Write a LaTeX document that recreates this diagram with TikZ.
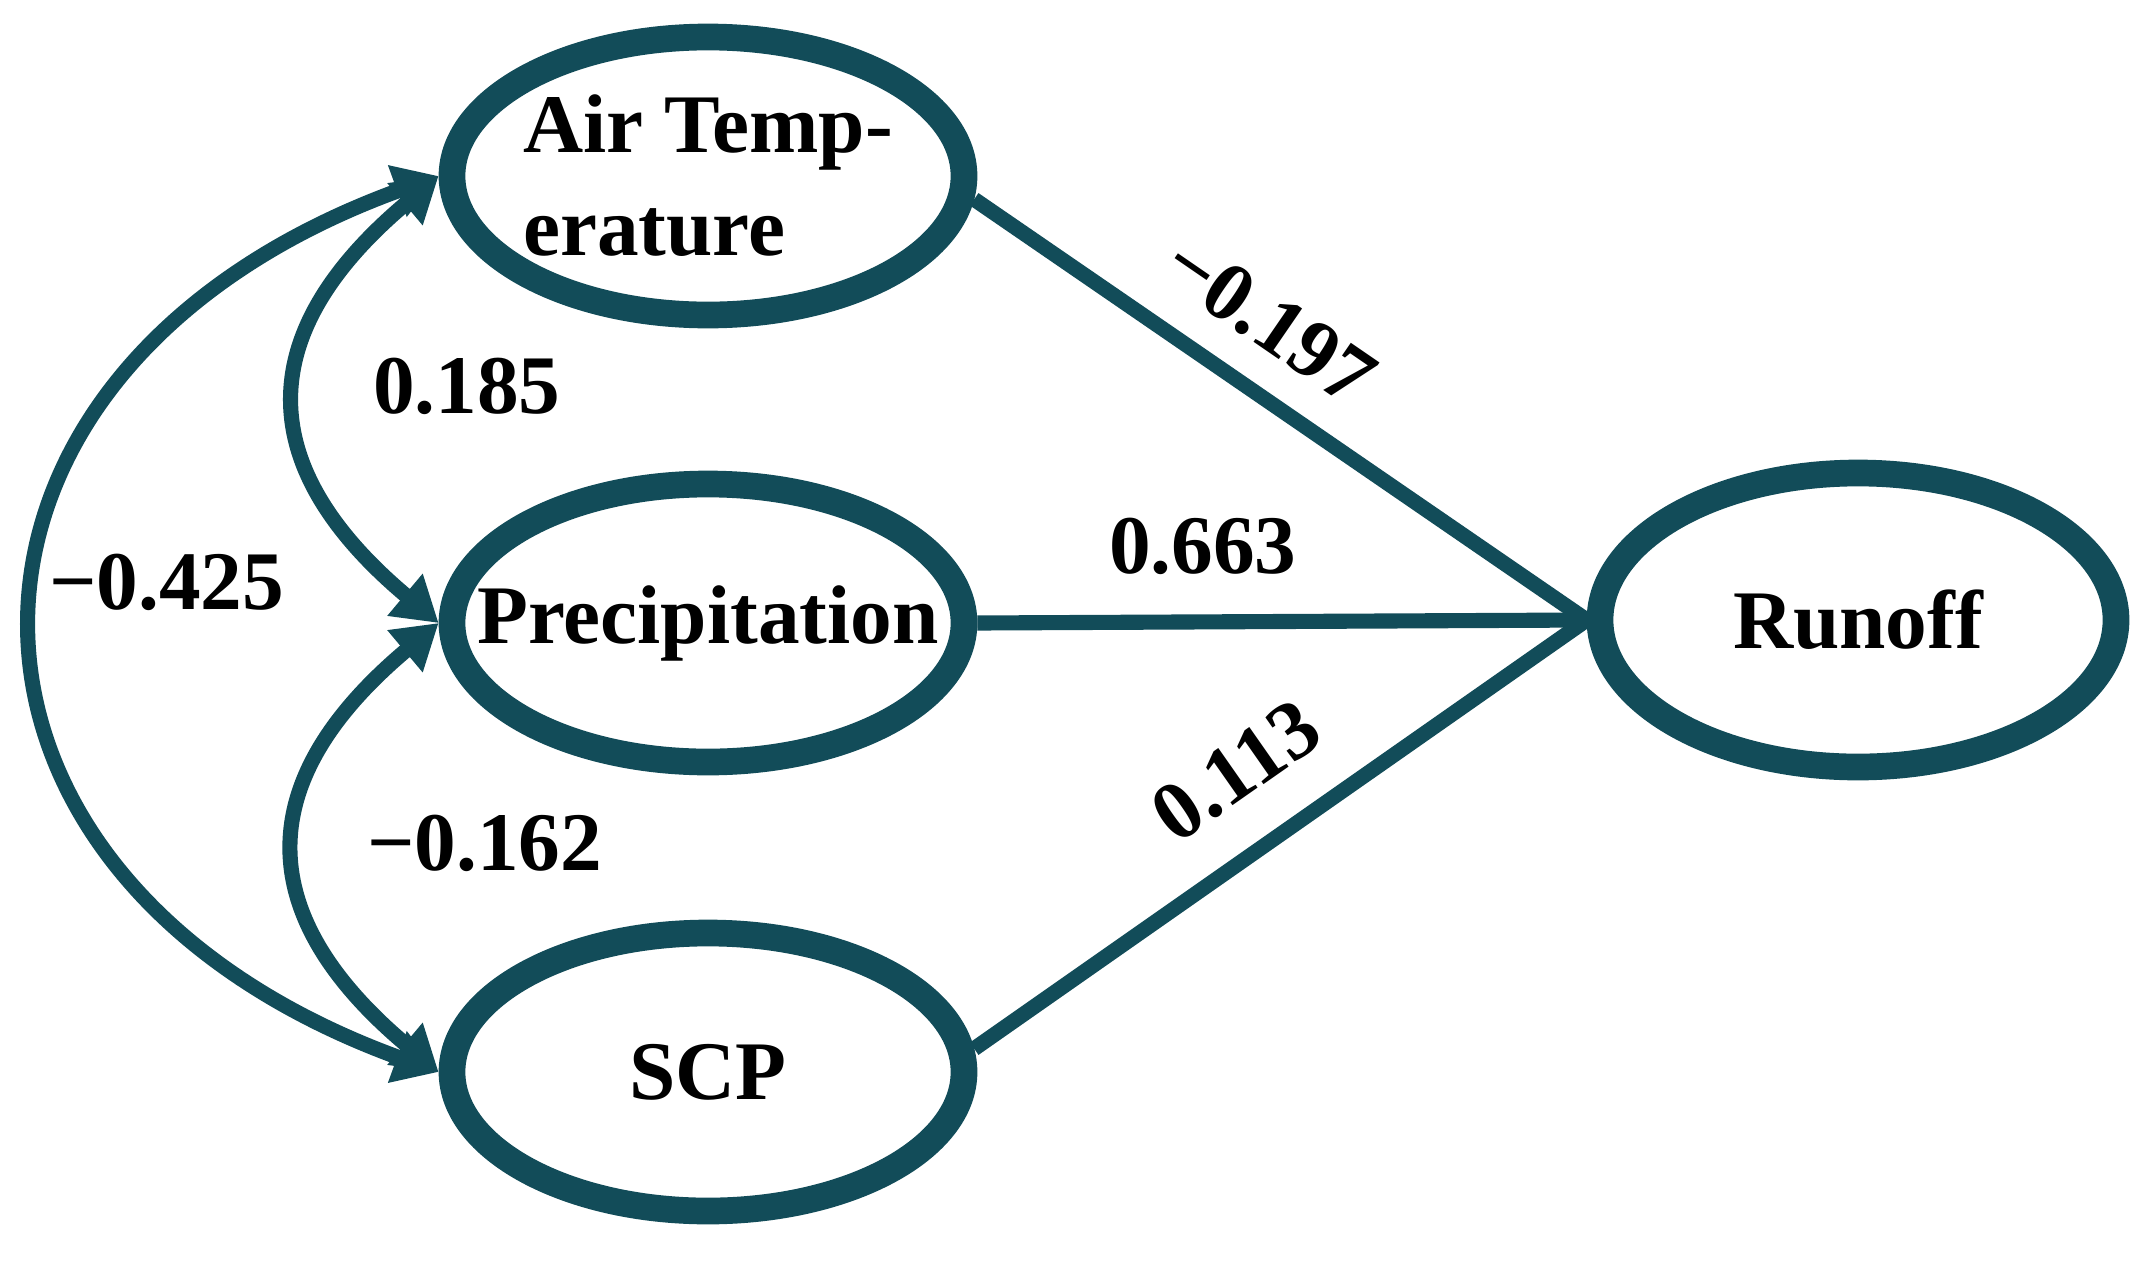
\documentclass[tikz,border=0pt]{standalone}
\usepackage{fontspec}
\setmainfont{Liberation Serif}
\usetikzlibrary{arrows.meta,shapes.geometric}

\definecolor{semteal}{RGB}{18,76,89}

\tikzset{
  var/.style={ellipse, draw=semteal, line width=7.6pt, fill=white,
    minimum width=5.12cm, minimum height=2.78cm, inner sep=0pt},
  effect/.style={draw=semteal, line width=4.3pt},
  covar/.style={effect, {Triangle[length=0.44cm,width=0.52cm]}-{Triangle[length=0.44cm,width=0.52cm]}},
}

\begin{document}
\begin{tikzpicture}[font=\fontsize{23.7}{29.3}\selectfont\bfseries]
    \useasboundingbox (0,0) rectangle (21.51,12.6);

    % Latent variables
    \node[var, label={[align=left]center:Air Temp-\\erature}] (at) at (7.08,10.84) {};
    \node[var, label=center:Precipitation] (prec) at (7.08,6.37) {};
    \node[var, label=center:SCP] (scp) at (7.08,1.88) {};
    \node[var, minimum width=5.16cm, minimum height=2.94cm, label=center:Runoff] (runoff) at (18.58,6.40) {};

    % Paths to runoff
    \draw[effect] (at.-5) -- node[pos=0.42, sloped, above=0.2cm] {−0.197} (runoff.west);
    \draw[effect] (prec.east) -- node[pos=0.37, above=0.28cm] {0.663} (runoff.west);
    \draw[effect] (scp.5) -- node[pos=0.5, sloped, above=0.3cm] {0.113} (runoff.west);

    % Correlations between the drivers
    \draw[covar] (at.west) to[out=220, in=140, looseness=1.4] node[pos=0.47, right=0.55cm] {0.185} (prec.west);
    \draw[covar] (prec.west) to[out=220, in=140, looseness=1.4] node[pos=0.49, right=0.5cm] {−0.162} (scp.west);
    \draw[covar] (at.west) to[out=200, in=160, looseness=1.63] node[pos=0.46, right=-0.1cm] {−0.425} (scp.west);
\end{tikzpicture}
\end{document}
